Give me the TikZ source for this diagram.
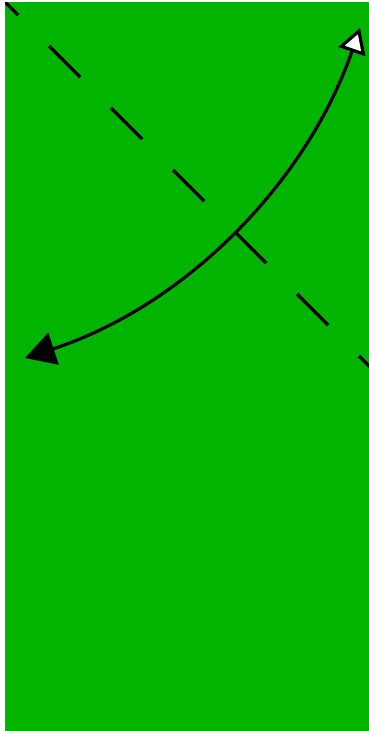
\documentclass[tikz,border=0pt]{standalone}
\usetikzlibrary{arrows.meta}
\definecolor{bggreen}{RGB}{0,180,0}
\tikzset{
  dashline/.style={line width=3.2pt, dash pattern=on 44pt off 43.7pt, draw=black},
  curvearrow/.style={line width=3.2pt, draw=black,
    {Triangle[length=30pt,width=33pt,fill=black]}-{Triangle[length=25pt,width=28pt,fill=white]}}
}
\begin{document}
\begin{tikzpicture}[x=1pt,y=-1pt]
  \fill[white] (0,0) rectangle (369,731);
  \useasboundingbox (0,0) rectangle (369,731);
  \fill[bggreen] (5,2) rectangle (369,731);
  \begin{scope}
    \clip (5,2) rectangle (369,731);
    \coordinate (d1) at (-13,-16);
    \coordinate (d2) at (400,397);
    \draw[dashline] (d1) -- (d2);
  \end{scope}
  \coordinate (tipB) at (25,358);
  \coordinate (tipW) at (360,28);
  \draw[curvearrow] (tipB) .. controls (183.8,306.2) and (306.2,183.8) .. (tipW);
\end{tikzpicture}
\end{document}
